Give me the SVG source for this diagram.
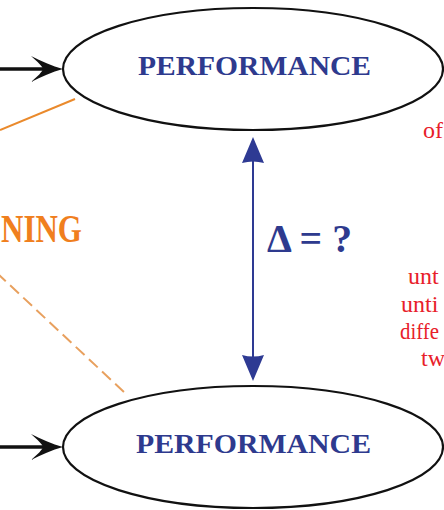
<svg xmlns="http://www.w3.org/2000/svg" width="444" height="510" viewBox="0 0 444 510">
<defs>
<style>
.ell{fill:#fff;stroke:#111;stroke-width:2.2}
.lbl{font-family:"Liberation Serif","DejaVu Serif",serif;font-weight:bold;font-size:27px;fill:#2e3a8e}
.red{font-family:"Liberation Serif","DejaVu Serif",serif;font-size:24px;fill:#e8202a}
.blk{stroke:#111;stroke-width:3.5;fill:none}
.head{fill:#111}
.blue{stroke:#2e3a93;stroke-width:2;fill:none}
.bhead{fill:#2e3a93}
</style>
</defs>
<rect width="444" height="510" fill="#fff"/>
<g id="connectors">
<line class="blk" x1="0" y1="69" x2="50" y2="69"/>
<path class="head" d="M63,69 C52,66 41,61 31,56 C38,62 42,66 43,69 C42,72 38,76 31,82 C41,77 52,72 63,69 Z"/>
<line class="blk" x1="0" y1="447" x2="50" y2="447"/>
<path class="head" d="M63,447 C52,444 41,439 31,434 C38,440 42,444 43,447 C42,450 38,454 31,460 C41,455 52,450 63,447 Z"/>
<line x1="0" y1="130" x2="75" y2="99" stroke="#ea8a2c" stroke-width="2"/>
<line x1="-3" y1="273" x2="125" y2="393" stroke="#e8a05e" stroke-width="2" stroke-dasharray="12 6"/>
<line class="blue" x1="253" y1="158" x2="253" y2="368"/>
<path class="bhead" d="M253,137 L264,163 Q253,160 242,163 Z"/>
<path class="bhead" d="M253,381 L264,355 Q253,358 242,355 Z"/>
</g>
<g id="top-performance">
<ellipse class="ell" cx="253" cy="69" rx="190" ry="61"/>
<text class="lbl" x="138" y="75" textLength="233" lengthAdjust="spacingAndGlyphs">PERFORMANCE</text>
</g>
<g id="bottom-performance">
<ellipse class="ell" cx="253" cy="447" rx="190" ry="61"/>
<text class="lbl" x="136" y="453" textLength="235" lengthAdjust="spacingAndGlyphs">PERFORMANCE</text>
</g>
<g id="delta">
<text x="267" y="252" font-family="'Liberation Serif','DejaVu Serif',serif" font-weight="bold" font-size="40" fill="#2e3a8e" textLength="85" lengthAdjust="spacingAndGlyphs">Δ = ?</text>
</g>
<g id="learning">
<text x="1" y="242" font-family="'Liberation Serif','DejaVu Serif',serif" font-weight="bold" font-size="39" fill="#f07f1e" textLength="81" lengthAdjust="spacingAndGlyphs">NING</text>
</g>
<g id="notes">
<text class="red" x="423" y="138">of</text>
<text class="red" x="408" y="284">unt</text>
<text class="red" x="401" y="312">unti</text>
<text class="red" x="400" y="339" textLength="39" lengthAdjust="spacingAndGlyphs">diffe</text>
<text class="red" x="421" y="366">tw</text>
</g>
</svg>
